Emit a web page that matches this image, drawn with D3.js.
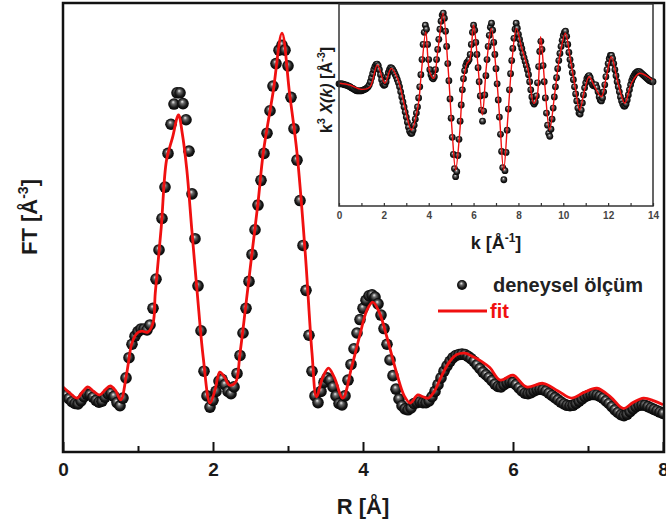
<!DOCTYPE html>
<html>
<head>
<meta charset="utf-8">
<script src="https://cdn.jsdelivr.net/npm/d3@7"></script>
<style>
  body { margin: 0; background: #fff; }
  text { font-family: "Liberation Sans", Arial, sans-serif; font-weight: bold; }
</style>
</head>
<body>
<div id="chart"></div>
<script>
// main panel: R in Angstrom, experimental points every 0.04
const expStep = 0.04;
const expFT = [
  13.0,12.6,11.9,11.2,10.8,10.7,11.4,12.3,12.9,12.8,12.2,11.5,11.1,11.3,12.2,13.0,13.1,12.4,11.0,10.3,12.0,16.5,21.0,24.0,25.8,
  26.8,27.4,27.4,27.2,28.3,32.0,38.5,45.0,52.0,59.0,66.5,73.0,77.5,80.0,80.0,77.6,74.0,67.0,57.5,47.5,37.0,27.0,18.0,12.5,10.0,
  11.5,13.5,15.8,16.2,15.0,13.5,13.0,14.5,17.5,21.5,26.5,32.0,38.0,44.0,49.5,55.0,60.5,66.5,71.0,76.0,81.5,86.5,89.5,90.6,89.5,
  86.0,79.0,72.0,65.0,56.0,46.0,36.0,26.0,18.0,12.5,11.0,13.5,15.5,16.5,16.0,14.5,12.5,10.8,10.5,12.5,16.0,19.5,23.0,26.5,29.5,
  32.0,33.8,34.8,35.0,34.5,33.0,30.5,27.5,24.0,20.5,17.0,14.0,11.8,10.3,9.6,9.4,9.8,10.8,11.0,11.2,11.0,11.0,11.4,12.3,13.5,
  15.0,16.5,18.0,19.2,20.2,21.0,21.5,21.7,21.8,21.7,21.3,20.8,20.2,19.4,18.6,17.8,17.2,16.6,15.9,15.1,14.6,14.5,15.0,15.4,15.6,
  15.5,15.0,14.3,13.6,13.1,13.0,13.2,13.6,13.9,14.0,13.9,13.6,13.1,12.6,12.1,11.6,11.1,10.7,10.4,10.3,10.4,10.8,11.3,11.8,12.3,
  12.6,12.8,12.8,12.7,12.4,12.0,11.4,10.8,10.1,9.4,8.8,8.3,8.1,8.4,9.0,9.6,10.1,10.4,10.5,10.4,10.1,9.8,9.5,9.2,8.9,
  8.6
];

// fit curve, main panel
const fitR = [0.00,0.10,0.19,0.26,0.33,0.41,0.49,0.56,0.63,0.70,0.77,0.85,0.92,0.99,1.05,1.13,1.20,1.23,1.31,1.38,1.46,1.54,
  1.59,1.65,1.72,1.79,1.87,1.96,2.03,2.09,2.15,2.22,2.30,2.36,2.44,2.52,2.60,2.67,2.80,2.92,3.02,3.12,3.23,3.32,3.38,3.46,
  3.54,3.62,3.73,3.85,3.95,4.05,4.13,4.22,4.32,4.45,4.55,4.63,4.73,4.80,4.87,4.95,5.05,5.15,5.25,5.36,5.47,5.58,5.69,5.83,
  6.00,6.18,6.40,6.60,6.78,6.95,7.12,7.30,7.47,7.60,7.74,7.88,8.00];
const fitFT = [14.5,13.0,12.0,13.4,14.5,13.5,12.7,13.8,14.7,13.7,11.6,17.6,24.3,26.5,26.9,26.7,28.7,35.4,50.1,65.0,70.0,75.1,
  71.0,63.0,49.0,35.4,21.0,10.9,14.0,17.8,16.8,14.9,15.5,22.0,33.0,44.3,55.5,66.6,80.0,93.3,80.0,66.6,44.3,22.0,12.3,16.5,
  18.7,16.5,12.0,19.0,25.5,31.5,33.4,31.0,25.5,17.5,12.5,10.9,12.7,12.3,12.0,13.5,17.0,20.0,21.7,22.0,21.2,20.2,18.8,16.0,
  17.1,14.5,15.3,13.6,12.0,13.3,14.2,12.3,9.7,11.0,12.0,11.4,10.5];

// inset: k^3 chi(k), experimental every 0.05
const inStep = 0.05;
const inExp = [
  2.1,2.1,2.1,2.1,2.05,2.0,2.0,1.95,1.9,1.85,1.8,1.7,1.65,1.6,1.5,1.45,1.4,1.4,1.4,1.4,
  1.4,1.45,1.5,1.55,1.6,1.7,1.8,2.0,2.3,2.7,3.1,3.5,3.8,4.0,4.05,3.9,3.5,3.0,2.5,2.1,
  1.95,2.0,2.3,2.8,3.2,3.5,3.7,3.65,3.5,3.3,3.05,2.8,2.5,2.2,1.8,1.3,0.8,0.3,-0.2,-0.7,
  -1.2,-1.7,-2.2,-2.6,-2.8,-2.8,-2.5,-2.0,-1.4,-0.8,-0.2,0.7,1.8,3.0,4.5,6.0,7.2,7.9,7.5,6.0,
  4.5,3.5,3.0,2.7,2.6,2.8,3.5,4.5,5.5,6.5,7.5,8.3,8.9,9.1,8.6,7.3,5.8,4.1,2.4,0.6,
  -1.3,-3.2,-4.9,-6.3,-7.1,-6.6,-5.0,-3.4,-1.6,0.0,1.5,2.6,3.4,3.9,4.2,4.3,4.5,5.0,6.0,7.2,
  7.9,7.4,6.2,5.0,3.7,2.3,0.9,-0.5,-1.6,-0.6,1.0,2.9,4.5,5.8,6.9,7.7,8.1,7.4,6.2,5.0,
  3.6,2.1,0.5,-1.2,-2.9,-4.6,-6.2,-7.4,-6.5,-4.7,-2.5,-0.4,1.5,3.1,4.4,5.6,6.6,7.5,8.1,7.6,
  7.0,6.5,6.0,5.6,5.1,4.7,4.3,3.9,3.5,3.0,2.3,1.5,0.8,0.3,0.1,0.3,0.9,2.2,3.8,5.3,
  6.3,5.5,3.9,2.3,0.7,-0.8,-2.0,-2.8,-3.1,-2.4,-1.4,-0.3,0.8,1.8,2.7,3.6,4.4,5.1,5.8,6.4,
  6.9,7.2,7.3,6.8,6.0,5.2,4.5,3.9,3.2,2.5,1.8,1.1,0.4,-0.3,-0.8,-0.9,-0.5,0.2,1.0,1.7,
  2.2,2.6,2.8,2.9,2.7,2.3,2.0,1.9,2.0,2.0,1.7,1.3,0.8,0.5,0.4,0.7,1.3,2.0,2.8,3.5,
  4.1,4.6,4.9,4.9,4.6,4.1,3.5,2.9,2.3,1.8,1.3,0.8,0.4,0.1,-0.1,-0.1,0.1,0.5,1.0,1.5,
  2.0,2.4,2.7,2.9,3.1,3.2,3.3,3.3,3.3,3.2,3.1,3.0,2.9,2.8,2.7,2.6,2.5,2.4,2.4,2.3,
  2.3
];
const inFitK = [0,0.48,1.0,1.37,1.71,2.04,2.33,2.63,2.93,3.23,3.52,3.67,3.87,4.04,4.22,4.41,4.64,4.86,5.05,5.20,5.38,5.53,
  5.71,5.83,6.00,6.20,6.39,6.57,6.79,6.99,7.16,7.34,7.53,7.73,7.91,8.13,8.43,8.68,8.83,8.99,9.17,9.39,9.62,9.84,10.09,
  10.32,10.55,10.73,10.95,11.15,11.40,11.70,11.92,12.14,12.44,12.74,13.04,13.40,13.97];
const inFit = [2.15,1.98,1.55,1.75,3.96,2.15,3.63,2.5,-0.17,-2.48,-0.17,3.14,7.26,3.3,2.64,5.45,9.08,3.8,-2.8,-6.44,-2.8,2.15,
  4.13,4.46,7.92,3.8,-0.99,3.8,7.59,3.8,-1.16,-6.44,-1.16,4.78,7.59,5.77,3.47,0.17,0.82,6.76,2.15,-2.48,1.16,4.78,7.1,
  4.46,1.49,-0.5,1.49,2.8,1.81,0.82,2.8,4.78,2.15,0.17,2.15,3.14,2.48];

const xTicks = [0, 2, 4, 6, 8];
const xMinor = [1, 3, 5, 7];
const kTicks = [0, 2, 4, 6, 8, 10, 12, 14];

const width = 666, height = 524;
const m = { left: 63, right: 663, top: 3, bottom: 452 };
const ins = { left: 339, right: 653, top: 4, bottom: 206 };

const svg = d3.select('#chart').append('svg')
    .attr('width', width)
    .attr('height', height);

const defs = svg.append('defs');
const grad = defs.append('radialGradient').attr('id', 'ball')
    .attr('cx', '50%').attr('cy', '50%').attr('r', '55%')
    .attr('fx', '42%').attr('fy', '32%');
grad.append('stop').attr('offset', '0%').attr('stop-color', '#f4f4f4');
grad.append('stop').attr('offset', '28%').attr('stop-color', '#6a6a6a');
grad.append('stop').attr('offset', '65%').attr('stop-color', '#1a1a1a');
grad.append('stop').attr('offset', '100%').attr('stop-color', '#000');

defs.append('clipPath').attr('id', 'clipMain').append('rect')
    .attr('x', m.left).attr('y', m.top)
    .attr('width', m.right - m.left + 2).attr('height', m.bottom - m.top);

const x = d3.scaleLinear().domain([0, 8]).range([m.left, m.right]);
const y = d3.scaleLinear().domain([0, 100]).range([m.bottom, m.top]);
const xi = d3.scaleLinear().domain([0, 14]).range([ins.left, ins.right]);
const yi = d3.scaleLinear().domain([-10, 10]).range([ins.bottom, ins.top]);

// main plot
const main = svg.append('g').attr('clip-path', 'url(#clipMain)');

main.selectAll('.pt')
    .data(expFT)
    .enter().append('circle')
    .attr('class', 'pt')
    .attr('cx', (d, i) => x(i * expStep))
    .attr('cy', d => y(d))
    .attr('r', 5.8)
    .attr('fill', 'url(#ball)');

const fitLine = d3.line()
    .x(d => x(d[0]))
    .y(d => y(d[1]))
    .curve(d3.curveCatmullRom.alpha(0.5));

main.append('path')
    .datum(fitR.map((r, i) => [r, fitFT[i]]))
    .attr('d', fitLine)
    .attr('fill', 'none')
    .attr('stroke', '#f01010')
    .attr('stroke-width', 2.8);

// x axis, ticks pointing inward
const axMajor = svg.append('g')
    .attr('transform', `translate(0,${m.bottom})`)
    .call(d3.axisBottom(x).tickValues(xTicks).tickSize(-10).tickPadding(11).tickFormat(d3.format('d')));
const axMinor = svg.append('g')
    .attr('transform', `translate(0,${m.bottom})`)
    .call(d3.axisBottom(x).tickValues(xMinor).tickSize(-6).tickFormat(''));
[axMajor, axMinor].forEach(a => {
    a.select('.domain').remove();
    a.selectAll('line').attr('stroke', '#111').attr('stroke-width', 2);
});
axMajor.selectAll('text')
    .style('font-size', '19px')
    .attr('fill', '#1a1a1a');

// frame
svg.append('rect')
    .attr('x', m.left).attr('y', m.top)
    .attr('width', m.right - m.left + 1).attr('height', m.bottom - m.top)
    .attr('fill', 'none')
    .attr('stroke', '#111')
    .attr('stroke-width', 2.5);

// axis titles
svg.append('text')
    .attr('x', (m.left + m.right) / 2)
    .attr('y', 514)
    .attr('text-anchor', 'middle')
    .style('font-size', '22px')
    .attr('fill', '#1a1a1a')
    .text('R [Å]');

const yt = svg.append('text')
    .attr('transform', 'translate(37,217) rotate(-90)')
    .attr('text-anchor', 'middle')
    .style('font-size', '22px')
    .attr('fill', '#1a1a1a');
yt.append('tspan').text('FT [Å');
yt.append('tspan').attr('dy', -9).style('font-size', '14px').text('-3');
yt.append('tspan').attr('dy', 9).text(']');

// legend
svg.append('circle')
    .attr('cx', 462).attr('cy', 285).attr('r', 5)
    .attr('fill', 'url(#ball)');
svg.append('text')
    .attr('x', 493).attr('y', 292)
    .style('font-size', '20px')
    .attr('fill', '#222')
    .text('deneysel ölçüm');
svg.append('line')
    .attr('x1', 438).attr('x2', 487)
    .attr('y1', 311).attr('y2', 311)
    .attr('stroke', '#f01010')
    .attr('stroke-width', 2.8);
svg.append('text')
    .attr('x', 490).attr('y', 318)
    .style('font-size', '20px')
    .attr('fill', '#f01010')
    .text('fit');

// inset
const inset = svg.append('g');
inset.append('rect')
    .attr('x', ins.left).attr('y', ins.top)
    .attr('width', ins.right - ins.left).attr('height', ins.bottom - ins.top)
    .attr('fill', '#fff');

inset.selectAll('.ipt')
    .data(inExp)
    .enter().append('circle')
    .attr('class', 'ipt')
    .attr('cx', (d, i) => xi(i * inStep))
    .attr('cy', d => yi(d))
    .attr('r', 3.4)
    .attr('fill', 'url(#ball)');

inset.append('path')
    .datum(inFitK.map((k, i) => [k, inFit[i]]))
    .attr('d', d3.line().x(d => xi(d[0])).y(d => yi(d[1])).curve(d3.curveCatmullRom.alpha(0.5)))
    .attr('fill', 'none')
    .attr('stroke', '#f01010')
    .attr('stroke-width', 1.4);

const axIn = inset.append('g')
    .attr('transform', `translate(0,${ins.bottom})`)
    .call(d3.axisBottom(xi).ticks(14).tickSize(-3).tickPadding(6)
        .tickFormat(d => kTicks.includes(d) ? d : ''));
axIn.select('.domain').remove();
axIn.selectAll('line').attr('stroke', '#333').attr('stroke-width', 1.2);
axIn.selectAll('text').style('font-size', '10px').attr('fill', '#444');

inset.append('rect')
    .attr('x', ins.left).attr('y', ins.top)
    .attr('width', ins.right - ins.left).attr('height', ins.bottom - ins.top)
    .attr('fill', 'none')
    .attr('stroke', '#333')
    .attr('stroke-width', 1.5);

inset.append('text')
    .attr('x', (ins.left + ins.right) / 2)
    .attr('y', 249)
    .attr('text-anchor', 'middle')
    .style('font-size', '18px')
    .attr('fill', '#1a1a1a')
    .text('k [Å')
    .append('tspan').attr('dy', -7).style('font-size', '12px').text('-1')
    .select(function () { return this.parentNode; })
    .append('tspan').attr('dy', 7).text(']');

const iy = inset.append('text')
    .attr('transform', 'translate(332,90) rotate(-90)')
    .attr('text-anchor', 'middle')
    .style('font-size', '16px')
    .attr('fill', '#1a1a1a');
iy.append('tspan').text('k');
iy.append('tspan').attr('dy', -7).style('font-size', '11px').text('3');
iy.append('tspan').attr('dy', 7).style('font-style', 'italic').text(' X(k) ');
iy.append('tspan').text('[Å');
iy.append('tspan').attr('dy', -7).style('font-size', '11px').text('-3');
iy.append('tspan').attr('dy', 7).text(']');
</script>
</body>
</html>
